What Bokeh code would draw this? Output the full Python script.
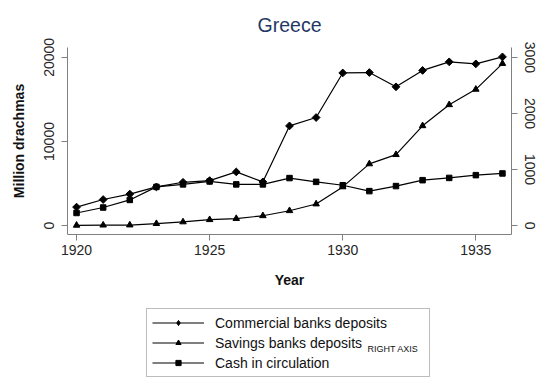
import math
from bokeh.plotting import figure
from bokeh.layouts import column
from bokeh.models import Range1d, LinearAxis, FixedTicker, Legend, LegendItem, Label
from bokeh.embed import file_html
from bokeh.resources import INLINE

# ---- data ----
years = list(range(1920, 1937))
commercial = [2200, 3100, 3750, 4600, 5150, 5350, 6380, 5200, 11850, 12850,
              18150, 18200, 16500, 18450, 19470, 19230, 20060]
savings = [5, 8, 10, 35, 65, 105, 125, 175, 265, 385,
           690, 1100, 1265, 1780, 2155, 2430, 2890]
cash = [1500, 2150, 3050, 4600, 4900, 5250, 4900, 4900, 5650, 5200,
        4800, 4100, 4700, 5400, 5670, 6000, 6200]

left_ticks = [0, 10000, 20000]
right_ticks = [0, 1000, 2000, 3000]
year_ticks = [1920, 1925, 1930, 1935]

labels = ["Commercial banks deposits", "Savings banks deposits", "Cash in circulation"]
subscript = "RIGHT AXIS"

FONT = "Liberation Sans"
AXIS_GRAY = "#808080"
TEXT = "#262626"

y0, y1 = -1059, 21176
scale_r = 0.15

p = figure(width=539, height=300, output_backend="svg", toolbar_location=None,
           x_range=Range1d(1919.66, 1936.34), y_range=Range1d(y0, y1),
           min_border_left=67, min_border_right=28, min_border_top=45,
           min_border_bottom=66, title="Greece")
p.extra_y_ranges = {"right": Range1d(y0 * scale_r, y1 * scale_r)}
p.outline_line_color = None
p.xgrid.visible = False
p.ygrid.visible = False

p.title.align = "center"
p.title.text_font = FONT
p.title.text_font_size = "19.5px"
p.title.text_font_style = "normal"
p.title.text_color = "#1f3864"
p.title.standoff = 23

line_kw = dict(line_color="black", line_width=1.2)
dia_kw = dict(marker="square", angle=math.pi / 4, size=5.5, fill_color="black", line_color="black")
tri_kw = dict(marker="triangle", size=6.5, fill_color="black", line_color="black")
sq_kw = dict(marker="square", size=5.5, fill_color="black", line_color="black")

p.line(years, commercial, **line_kw)
p.scatter(years, commercial, **dia_kw)
p.line(years, savings, y_range_name="right", **line_kw)
p.scatter(years, savings, y_range_name="right", **tri_kw)
p.line(years, cash, **line_kw)
p.scatter(years, cash, **sq_kw)


def style_axis(ax):
    ax.axis_line_color = AXIS_GRAY
    ax.major_tick_line_color = AXIS_GRAY
    ax.minor_tick_line_color = None
    ax.major_tick_in = 0
    ax.major_tick_out = 6
    ax.major_label_text_font = FONT
    ax.major_label_text_font_size = "14px"
    ax.major_label_text_color = TEXT
    ax.axis_label_text_font = FONT
    ax.axis_label_text_font_size = "14px"
    ax.axis_label_text_font_style = "bold"
    ax.axis_label_text_color = "#111111"


xa = p.xaxis[0]
xa.ticker = FixedTicker(ticks=year_ticks)
xa.axis_label = "Year"
xa.major_label_standoff = 4
xa.axis_label_standoff = 14
style_axis(xa)

ya = p.yaxis[0]
ya.ticker = FixedTicker(ticks=left_ticks)
ya.axis_label = "Million drachmas"
ya.major_label_orientation = "vertical"
ya.major_label_standoff = 7
ya.axis_label_standoff = 15
style_axis(ya)

ra = LinearAxis(y_range_name="right", ticker=FixedTicker(ticks=right_ticks))
ra.major_label_orientation = "vertical"
ra.major_label_standoff = 7
style_axis(ra)
p.add_layout(ra, "right")

# ---- legend panel (separate figure below the chart; its series lie outside its view) ----
q = figure(width=539, height=80, output_backend="svg", toolbar_location=None,
           x_range=Range1d(0, 1), y_range=Range1d(0, 1),
           min_border_left=0, min_border_right=0, min_border_top=0, min_border_bottom=0,
           x_axis_location=None, y_axis_location=None)
q.outline_line_color = None
q.xgrid.visible = False
q.ygrid.visible = False

lc = q.line(years, commercial, **line_kw)
lcp = q.scatter(years, commercial, marker="diamond", size=8, fill_color="black", line_color="black")
ls = q.line(years, savings, **line_kw)
lsp = q.scatter(years, savings, **tri_kw)
lk = q.line(years, cash, **line_kw)
lkp = q.scatter(years, cash, **sq_kw)

legend = Legend(items=[
    LegendItem(label=labels[0], renderers=[lc, lcp]),
    LegendItem(label=labels[1] + " " * 16, renderers=[ls, lsp]),
    LegendItem(label=labels[2], renderers=[lk, lkp]),
], location=(79, 3), orientation="vertical", padding=5, spacing=3,
    glyph_height=13, glyph_width=52, label_height=17, label_standoff=11,
    label_text_font=FONT, label_text_font_size="14px", label_text_color="#111111",
    border_line_color="#7a7a7a", border_line_width=1,
    background_fill_alpha=0.0, margin=0)
q.add_layout(legend, "center")

sub = Label(x=300, y=32, x_units="screen", y_units="screen", text=subscript,
            text_font=FONT, text_font_size="9px", text_baseline="middle",
            text_color="#111111")
q.add_layout(sub)

layout = column(p, q, spacing=0)
open("out.html", "w").write(file_html(layout, INLINE))
